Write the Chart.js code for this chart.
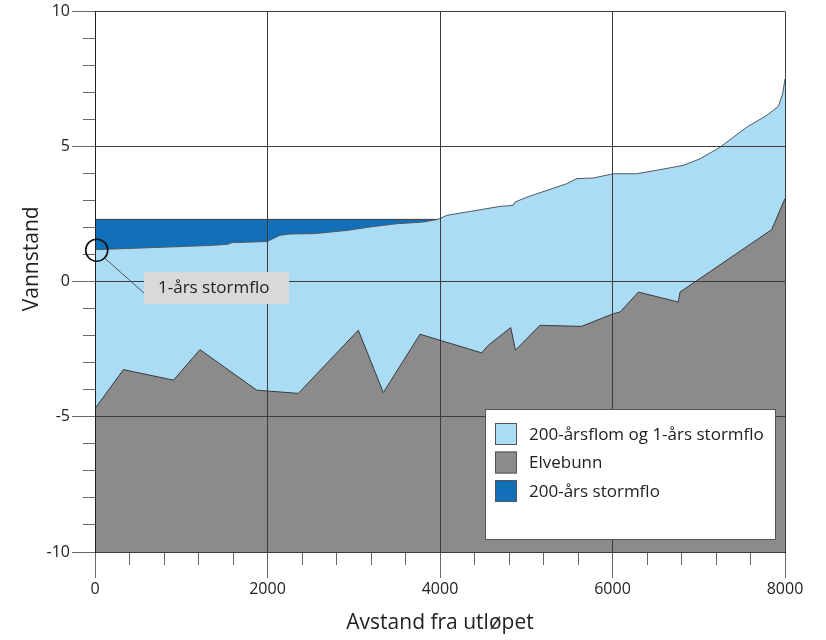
<!DOCTYPE html>
<html>
<head>
<meta charset="utf-8">
<script src="https://cdn.jsdelivr.net/npm/chart.js@4"></script>
<style>
  html, body { margin: 0; padding: 0; background: #fff; }
</style>
</head>
<body>
<canvas id="profil" width="826" height="640"></canvas>
<script>
// tick labels
const xLabels = [0, 2000, 4000, 6000, 8000];
const yLabels = [-10, -5, 0, 5, 10];

// Elvebunn (riverbed)
const bedX = [0, 330, 910, 1217, 1875, 2357, 3053, 3343, 3768, 4483, 4560, 4820, 4875, 5159, 5640, 6010, 6087, 6300, 6763, 6783, 7845, 8000];
const bedY = [-4.69, -3.25, -3.64, -2.51, -4.01, -4.13, -1.79, -4.10, -1.94, -2.63, -2.35, -1.69, -2.53, -1.61, -1.65, -1.18, -1.12, -0.38, -0.75, -0.38, 1.93, 3.08];

// 200-årsflom og 1-års stormflo
const floodX = [0, 870, 1370, 1540, 1590, 1995, 2145, 2260, 2530, 2920, 3190, 3500, 3800, 3977, 4080, 4230, 4696, 4850, 4870, 5005, 5469, 5585, 5777, 6010, 6280, 6551, 6821, 7014, 7246, 7556, 7788, 7923, 7973, 8000];
const floodY = [1.19, 1.29, 1.35, 1.39, 1.45, 1.49, 1.72, 1.77, 1.78, 1.90, 2.03, 2.15, 2.21, 2.31, 2.46, 2.54, 2.79, 2.83, 2.95, 3.13, 3.63, 3.82, 3.84, 4.00, 4.00, 4.15, 4.31, 4.55, 4.98, 5.72, 6.16, 6.49, 6.96, 7.51];

// 200-års stormflo
const stormX = [0, 3977];
const stormY = [2.31, 2.31];

// where the "1-års stormflo" circle sits
const markX = 20;
const markY = 1.17;

const toPts = (xs, ys) => xs.map((x, i) => ({ x: x, y: ys[i] }));

Chart.defaults.font.family = '"Open Sans", sans-serif';
Chart.defaults.color = '#222';

const extras = {
  id: 'extras',
  afterDraw(chart) {
    const { ctx, chartArea } = chart;
    const x = chart.scales.x, y = chart.scales.y;

    // y axis title
    ctx.save();
    ctx.font = '21px "Open Sans"';
    ctx.fillStyle = '#222';
    ctx.textAlign = 'center';
    ctx.textBaseline = 'middle';
    ctx.translate(32, (chartArea.top + chartArea.bottom) / 2 - 23);
    ctx.rotate(-Math.PI / 2);
    ctx.fillText('Vannstand', 0, 0);
    ctx.restore();

    // 1-års stormflo marker
    const cx = x.getPixelForValue(markX), cy = y.getPixelForValue(markY);
    const r = 11;
    ctx.save();
    ctx.strokeStyle = '#555';
    ctx.lineWidth = 1;
    ctx.beginPath();
    ctx.moveTo(cx + r * 0.7, cy + r * 0.7);
    ctx.lineTo(144, 293);
    ctx.stroke();
    ctx.strokeStyle = '#111';
    ctx.lineWidth = 1.6;
    ctx.beginPath();
    ctx.arc(cx, cy, r, 0, Math.PI * 2);
    ctx.stroke();
    ctx.fillStyle = '#d9d9d9';
    ctx.fillRect(144, 272, 145, 32);
    ctx.fillStyle = '#222';
    ctx.font = '17px "Open Sans"';
    ctx.textBaseline = 'middle';
    ctx.fillText('1-års stormflo', 158, 288);
    ctx.restore();

    // legend box
    ctx.save();
    ctx.fillStyle = '#fff';
    ctx.fillRect(485, 409, 291, 130);
    ctx.strokeStyle = '#555';
    ctx.lineWidth = 1;
    ctx.strokeRect(485.5, 409.5, 290, 130);
    ctx.font = '17px "Open Sans"';
    ctx.textBaseline = 'middle';
    chart.data.datasets.forEach((ds, i) => {
      const top = 423 + i * 28.5;
      ctx.fillStyle = ds.backgroundColor;
      ctx.fillRect(495, top, 22, 22);
      ctx.strokeStyle = '#555';
      ctx.strokeRect(495.5, top + 0.5, 21, 21);
      ctx.fillStyle = '#222';
      ctx.fillText(ds.label, 529, top + 12);
    });
    ctx.restore();
  }
};

new Chart(document.getElementById('profil'), {
  type: 'line',
  data: {
    datasets: [
      {
        label: '200-årsflom og 1-års stormflo',
        data: toPts(floodX, floodY),
        backgroundColor: '#abdcf6',
        borderColor: '#4d5a62',
        borderWidth: 1,
        fill: 'start',
        order: 1
      },
      {
        label: 'Elvebunn',
        data: toPts(bedX, bedY),
        backgroundColor: '#8b8b8b',
        borderColor: '#3a3a3a',
        borderWidth: 1,
        fill: 'start',
        order: 0
      },
      {
        label: '200-års stormflo',
        data: toPts(stormX, stormY),
        backgroundColor: '#1170b8',
        borderColor: '#3a3a3a',
        borderWidth: 1,
        fill: 'start',
        order: 2
      }
    ]
  },
  options: {
    responsive: false,
    animation: false,
    events: [],
    layout: { padding: { top: 11, right: 41, left: 0, bottom: 0 } },
    elements: { point: { radius: 0 }, line: { tension: 0 } },
    plugins: { legend: { display: false }, tooltip: { enabled: false } },
    scales: {
      x: {
        type: 'linear', position: 'bottom', min: 0, max: 8000, weight: 1,
        afterBuildTicks: s => { s.ticks = xLabels.map(v => ({ value: v })); },
        afterFit: s => { s.height = 88; },
        grid: { z: 1, color: '#3c3c3c', lineWidth: 1, tickLength: 26, tickColor: '#666' },
        border: { z: 1, color: '#222', width: 1 },
        ticks: { callback: v => String(v), font: { size: 16 }, color: '#222', padding: 2, maxRotation: 0, autoSkip: false },
        title: { display: true, text: 'Avstand fra utløpet', font: { size: 21 }, color: '#222', padding: { top: 0, bottom: 4 } }
      },
      xMinor: {
        type: 'linear', position: 'bottom', min: 0, max: 8000, weight: 0,
        afterFit: s => { s.height = 0; },
        grid: { drawOnChartArea: false, tickLength: 13, tickColor: '#666' },
        border: { display: false },
        ticks: { stepSize: 400, display: false }
      },
      y: {
        type: 'linear', position: 'left', min: -10, max: 10, weight: 1,
        afterBuildTicks: s => { s.ticks = yLabels.map(v => ({ value: v })); },
        afterFit: s => { s.width = 95; },
        grid: { z: 1, color: '#3c3c3c', lineWidth: 1, tickLength: 23, tickColor: '#666' },
        border: { z: 1, color: '#222', width: 1 },
        ticks: { callback: v => String(v), font: { size: 16 }, color: '#222', padding: 2 }
      },
      yMinor: {
        type: 'linear', position: 'left', min: -10, max: 10, weight: 0,
        afterFit: s => { s.width = 0; },
        grid: { drawOnChartArea: false, tickLength: 12, tickColor: '#666' },
        border: { display: false },
        ticks: { stepSize: 1, display: false }
      }
    }
  },
  plugins: [extras]
});
</script>
</body>
</html>
